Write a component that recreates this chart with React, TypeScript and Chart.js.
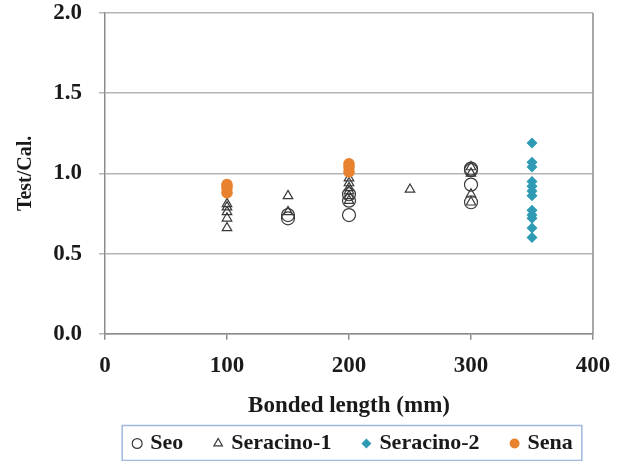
import React, { useEffect, useRef } from "react";
import { Chart, registerables } from "chart.js";

Chart.register(...registerables);

const seoX = [150, 150, 200, 200, 200, 300, 300, 300, 300];
const seoY = [0.74, 0.72, 0.87, 0.83, 0.74, 1.03, 1.02, 0.93, 0.82];

const ser1X = [100, 100, 100, 100, 100, 150, 150, 200, 200, 200, 200, 200, 200, 250, 300, 300, 300, 300];
const ser1Y = [0.81, 0.79, 0.76, 0.72, 0.66, 0.86, 0.76, 0.97, 0.94, 0.91, 0.89, 0.86, 0.83, 0.9, 1.04, 1.0, 0.87, 0.82];

const ser2X = [350, 350, 350, 350, 350, 350, 350, 350, 350, 350, 350, 350];
const ser2Y = [1.19, 1.07, 1.04, 0.95, 0.92, 0.89, 0.86, 0.77, 0.74, 0.72, 0.66, 0.6];

const senaX = [100, 100, 100, 200, 200, 200];
const senaY = [0.93, 0.91, 0.88, 1.06, 1.04, 1.01];

const seriesNames = ["Seo", "Seracino-1", "Seracino-2", "Sena"];
const xTicks = [0, 100, 200, 300, 400];
const yTicks = [0, 0.5, 1.0, 1.5, 2.0];

const toPts = (xs: number[], ys: number[]) => xs.map((x, i) => ({ x, y: ys[i] }));

const FONT = "'Liberation Serif', 'Times New Roman', serif";
const TEXT = "#1a1a1a";

const frame = {
  id: "frame",
  afterLayout(chart: any) {
    const lg = chart.legend;
    const ca = chart.chartArea;
    if (lg && ca) {
      const target = (ca.left + ca.right) / 2 + 5;
      const shift = target - (lg.left + lg.right) / 2;
      lg.left += shift;
      lg.right += shift;
    }
  },
  afterDraw(chart: any) {
    const ctx = chart.ctx;
    const a = chart.chartArea;
    ctx.save();
    ctx.strokeStyle = "#8c8c8c";
    ctx.lineWidth = 1.5;
    ctx.beginPath();
    ctx.moveTo(a.right, a.top);
    ctx.lineTo(a.right, a.bottom);
    ctx.stroke();
    const boxes = chart.legend && chart.legend.legendHitBoxes;
    if (boxes && boxes.length) {
      let minX = Infinity, maxX = -Infinity, minY = Infinity, maxY = -Infinity;
      boxes.forEach((b: any) => {
        minX = Math.min(minX, b.left);
        maxX = Math.max(maxX, b.left + b.width);
        minY = Math.min(minY, b.top);
        maxY = Math.max(maxY, b.top + b.height);
      });
      ctx.strokeStyle = "#9fb8de";
      ctx.lineWidth = 1.5;
      ctx.strokeRect(minX - 13, minY - 7, maxX - minX + 22, maxY - minY + 13);
    }
    ctx.restore();
  },
};

export default function App() {
  const ref = useRef<HTMLCanvasElement>(null);
  useEffect(() => {
    document.body.style.margin = "0";
    const chart = new Chart(ref.current as HTMLCanvasElement, {
      type: "scatter",
      data: {
        datasets: [
          {
            label: seriesNames[0],
            data: toPts(seoX, seoY),
            pointStyle: "circle",
            pointRadius: 6.5,
            backgroundColor: "rgba(255,255,255,0)",
            borderColor: "#3a3a3a",
            borderWidth: 1.2,
            order: 3,
          },
          {
            label: seriesNames[1],
            data: toPts(ser1X, ser1Y),
            pointStyle: "triangle",
            pointRadius: 5.5,
            backgroundColor: "rgba(255,255,255,0)",
            borderColor: "#3a3a3a",
            borderWidth: 1.2,
            order: 2,
          },
          {
            label: seriesNames[2],
            data: toPts(ser2X, ser2Y),
            pointStyle: "rectRot",
            pointRadius: 5.5,
            backgroundColor: "#2f9ab4",
            borderColor: "#2f9ab4",
            borderWidth: 0,
            order: 1,
          },
          {
            label: seriesNames[3],
            data: toPts(senaX, senaY),
            pointStyle: "circle",
            pointRadius: 5.8,
            backgroundColor: "#e8822f",
            borderColor: "#e8822f",
            borderWidth: 0,
            order: 0,
          },
        ],
      },
      options: {
        responsive: false,
        animation: false,
        layout: { padding: { top: 13, right: 31, left: 4, bottom: -3.5 } },
        plugins: {
          tooltip: { enabled: false },
          legend: {
            position: "bottom",
            fullSize: true,
            labels: {
              usePointStyle: true,
              boxWidth: 4,
              boxHeight: 7,
              padding: 33,
              color: TEXT,
              font: { family: FONT, size: 22, weight: "bold" },
              sort: (a: any, b: any) => a.datasetIndex - b.datasetIndex,
            },
          },
        },
        scales: {
          x: {
            type: "linear",
            min: 0,
            max: 400,
            afterBuildTicks: (axis: any) => {
              axis.ticks = xTicks.map((v) => ({ value: v }));
            },
            afterFit: (axis: any) => {
              axis.paddingLeft = 0;
              axis.paddingRight = 0;
            },
            ticks: {
              color: TEXT,
              font: { family: FONT, size: 23, weight: "bold" },
              padding: 12.5,
              maxRotation: 0,
            },
            grid: { drawOnChartArea: false, drawTicks: true, tickLength: 6, color: "#8c8c8c", lineWidth: 1.5 },
            border: { color: "#8c8c8c", width: 1.5 },
            title: {
              display: true,
              text: "Bonded length (mm)",
              color: TEXT,
              font: { family: FONT, size: 23, weight: "bold" },
              padding: { top: 0, bottom: -20.5 },
            },
          },
          y: {
            type: "linear",
            min: 0,
            max: 2,
            afterBuildTicks: (axis: any) => {
              axis.ticks = yTicks.map((v) => ({ value: v }));
            },
            afterFit: (axis: any) => {
              axis.paddingTop = 0;
              axis.paddingBottom = 0;
              axis.width = 101;
            },
            ticks: {
              color: TEXT,
              font: { family: FONT, size: 23, weight: "bold" },
              padding: 17,
              callback: (v: any) => Number(v).toFixed(1),
            },
            grid: { drawTicks: true, tickLength: 6, color: "#b4b4b4", lineWidth: 1.5 },
            border: { color: "#8c8c8c", width: 1.5 },
            title: {
              display: true,
              text: "Test/Cal.",
              color: TEXT,
              font: { family: FONT, size: 20, weight: "bold" },
              padding: { top: 10, bottom: 6 },
            },
          },
        },
      },
      plugins: [frame],
    });
    return () => chart.destroy();
  }, []);
  return (
    <div style={{ width: 624, height: 461, background: "#fff" }}>
      <canvas ref={ref} width={624} height={461} />
    </div>
  );
}
